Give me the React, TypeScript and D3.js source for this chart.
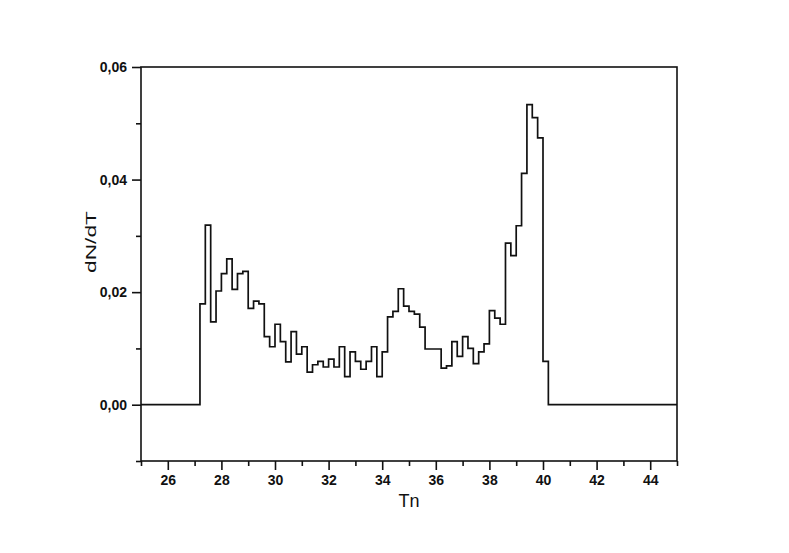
import React, { useEffect, useRef } from 'react';
import * as d3 from 'd3';

// histogram of dN/dT over Tn, bins of 0.2 starting at 27.2
const binStart = 27.2;
const binWidth = 0.2;
const dNdT = [
  0.0179, 0.0319, 0.0147, 0.0202, 0.0233, 0.0259, 0.0205, 0.0233, 0.0237, 0.0171,
  0.0184, 0.0179, 0.0121, 0.0103, 0.0143, 0.0112, 0.0076, 0.0130, 0.0090, 0.0103,
  0.0058, 0.0071, 0.0077, 0.0067, 0.0081, 0.0067, 0.0103, 0.0050, 0.0094, 0.0077,
  0.0063, 0.0077, 0.0103, 0.0050, 0.0094, 0.0156, 0.0166, 0.0206, 0.0175, 0.0166,
  0.0161, 0.0138, 0.0099, 0.0099, 0.0099, 0.0065, 0.0069, 0.0112, 0.0086, 0.0121,
  0.0100, 0.0073, 0.0094, 0.0108, 0.0167, 0.0154, 0.0143, 0.0287, 0.0265, 0.0318,
  0.0411, 0.0533, 0.0510, 0.0474, 0.0077,
];

const xMajor = [26, 28, 30, 32, 34, 36, 38, 40, 42, 44];
const xMinor = [25, 27, 29, 31, 33, 35, 37, 39, 41, 43, 45];
const yMajor = [0, 0.02, 0.04, 0.06];
const yMinor = [-0.01, 0.01, 0.03, 0.05];

const width = 789;
const height = 553;
const margin = { top: 67, right: 112, bottom: 92, left: 141 };

const App = () => {
  const ref = useRef<SVGSVGElement>(null);

  useEffect(() => {
    const svg = d3.select(ref.current);
    svg.selectAll('*').remove();

    const x = d3.scaleLinear().domain([25, 45]).range([margin.left, width - margin.right]);
    const y = d3.scaleLinear().domain([-0.01, 0.06]).range([height - margin.bottom, margin.top]);

    const fmt = (d: number) => d.toFixed(2).replace('.', ',');

    // step line: flat zero before and after the bins
    const pts: [number, number][] = [[25, 0]];
    dNdT.forEach((v, i) => pts.push([binStart + i * binWidth, v]));
    pts.push([binStart + dNdT.length * binWidth, 0]);
    pts.push([45, 0]);

    const line = d3.line<[number, number]>()
      .x(d => x(d[0]))
      .y(d => y(d[1]))
      .curve(d3.curveStepAfter);

    svg.append('path')
      .datum(pts)
      .attr('d', line)
      .attr('fill', 'none')
      .attr('stroke', '#111')
      .attr('stroke-width', 1.7);

    /* axes */

    const bottom = height - margin.bottom;

    const xAxis = svg.append('g').attr('transform', `translate(0,${bottom})`);
    xAxis.call(d3.axisBottom(x).tickValues(xMinor).tickSize(5).tickFormat(() => ''));
    const xAxisMaj = svg.append('g').attr('transform', `translate(0,${bottom})`);
    xAxisMaj.call(d3.axisBottom(x).tickValues(xMajor).tickSize(9).tickPadding(5).tickFormat(d3.format('d')));

    const yAxis = svg.append('g').attr('transform', `translate(${margin.left},0)`);
    yAxis.call(d3.axisLeft(y).tickValues(yMinor).tickSize(5).tickFormat(() => ''));
    const yAxisMaj = svg.append('g').attr('transform', `translate(${margin.left},0)`);
    yAxisMaj.call(d3.axisLeft(y).tickValues(yMajor).tickSize(9).tickPadding(5).tickFormat(d => fmt(+d)));

    svg.selectAll('.domain').remove();
    svg.selectAll('.tick line').attr('stroke', '#111').attr('stroke-width', 1.6);
    svg.selectAll('.tick text')
      .attr('fill', '#111')
      .style('font-family', '"Liberation Sans", Arial, sans-serif')
      .style('font-size', '14px')
      .style('font-weight', 'bold');

    // frame
    svg.append('rect')
      .attr('x', margin.left)
      .attr('y', margin.top)
      .attr('width', width - margin.left - margin.right)
      .attr('height', height - margin.top - margin.bottom)
      .attr('fill', 'none')
      .attr('stroke', '#111')
      .attr('stroke-width', 1.6);

    svg.append('text')
      .attr('x', (x(25) + x(45)) / 2)
      .attr('y', 507)
      .attr('text-anchor', 'middle')
      .style('font-family', '"Liberation Sans", Arial, sans-serif')
      .style('font-size', '18px')
      .attr('fill', '#111')
      .text('Tn');

    svg.append('text')
      .attr('transform', 'translate(96,242) rotate(-90)')
      .attr('text-anchor', 'middle')
      .attr('textLength', 62)
      .attr('lengthAdjust', 'spacingAndGlyphs')
      .style('font-family', '"Liberation Sans", Arial, sans-serif')
      .style('font-size', '15px')
      .attr('fill', '#111')
      .text('dN/dT');
  });

  return (
    <svg
      ref={ref}
      width={width}
      height={height}
      style={{ position: 'absolute', left: 0, top: 0, background: '#fff' }}
    />
  );
};

export default App;
